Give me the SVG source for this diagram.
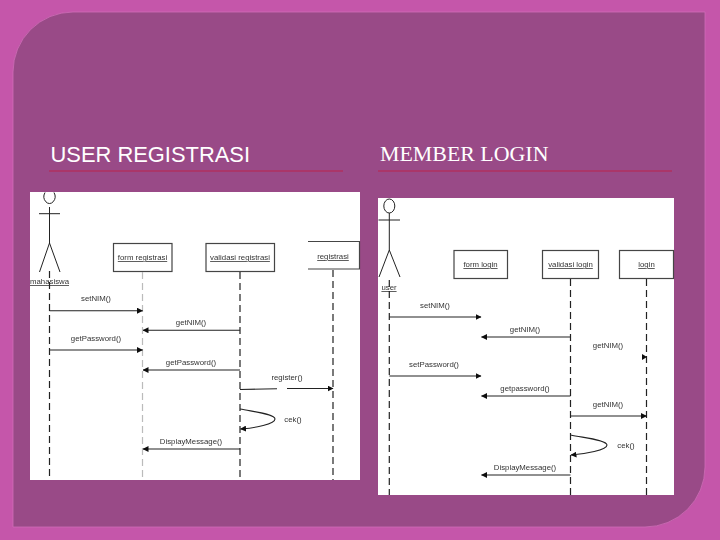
<svg xmlns="http://www.w3.org/2000/svg" width="720" height="540" viewBox="0 0 720 540">
<defs>
<marker id="ah" viewBox="0 0 6 6" refX="5.5" refY="3" markerWidth="6" markerHeight="6" orient="auto" markerUnits="userSpaceOnUse"><path d="M0 0L6 3L0 6Z" fill="#111"/></marker>
<filter id="soft" x="-2%" y="-2%" width="104%" height="104%"><feGaussianBlur stdDeviation="0.35"/></filter>
</defs>
<style>
.lbl{font-family:"Liberation Sans",Arial,sans-serif;font-size:7.8px;fill:#333;text-anchor:middle}
.ul{text-decoration:underline}
.box{fill:#fff;stroke:#444;stroke-width:1.2}
.life{stroke:#222;stroke-width:1.2;stroke-dasharray:7 4;fill:none}
.msg{stroke:#222;stroke-width:1.1;fill:none;marker-end:url(#ah)}
.act{stroke:#222;stroke-width:1;fill:none}
.rule{stroke:#b0305f;stroke-width:1.4}
.title{font-size:21.9px;fill:#fff}
</style>
<rect id="background" width="720" height="540" fill="#c556aa"/>
<path id="panel" d="M73 12H705V467A60 60 0 0 1 645 527H13V72A60 60 0 0 1 73 12Z" fill="#994a87" stroke="#cf6db8" stroke-width="0.8"/>
<g id="title-left"><text class="title" x="50.500" y="162" font-family="'Liberation Sans',Arial,sans-serif">USER REGISTRASI</text><line class="rule" x1="49" y1="171" x2="343" y2="171"/></g>
<g id="title-right"><text class="title" x="380" y="161" font-family="'Liberation Serif','Times New Roman',serif">MEMBER LOGIN</text><line class="rule" x1="378" y1="171" x2="672" y2="171"/></g>
<g id="diagram-left" filter="url(#soft)">
<rect x="30" y="192" width="330" height="288" fill="#fff"/>
<g id="actor-mahasiswa"><path class="act" d="M49.5 207V243M39 213.7H60M49.5 243L39.500 272M49.500 243L60 272"/><path class="act" d="M45 192.500A5.500 7 0 1 0 54 192.500"/><text class="lbl ul" x="49.500" y="284">mahasiswa</text></g>
<g id="form-registrasi"><rect class="box" x="113.500" y="243.500" width="58.500" height="28"/><text class="lbl ul" x="142.500" y="260">form registrasi</text></g>
<g id="validasi-registrasi"><rect class="box" x="206" y="243.500" width="68.500" height="28"/><text class="lbl ul" x="240" y="260">validasi registrasi</text></g>
<g id="registrasi"><path class="box" d="M308 241.500H359.500V269H308"/><text class="lbl ul" x="333" y="259">registrasi</text></g>
<g id="connectors-left">
<path class="life" d="M49.500 271V480M240 272V480M333 270V480"/>
<path class="life" style="stroke:#bbb" d="M142.500 272V480"/>
<path class="msg" d="M49.500 310.700H142.500"/><path class="msg" d="M240 330.300H143"/><path class="msg" d="M49.500 350H142.500"/><path class="msg" d="M240 370H143"/>
<path class="msg" d="M240 389.500L277 388.700M287 388.500H333"/>
<path class="msg" d="M240 409C255 412 275 414 275 419C275 424 255 428 240.500 429"/>
<path class="msg" d="M240 449H143"/>
</g>
<text class="lbl" x="96" y="301">setNIM()</text><text class="lbl" x="191" y="325">getNIM()</text><text class="lbl" x="96" y="341">getPassword()</text><text class="lbl" x="191" y="365">getPassword()</text><text class="lbl" x="287" y="380">register()</text><text class="lbl" x="293" y="422">cek()</text><text class="lbl" x="191" y="444">DisplayMessage()</text>
</g>
<g id="diagram-right" filter="url(#soft)">
<rect x="378" y="198" width="296" height="297" fill="#fff"/>
<g id="actor-user"><ellipse class="act" cx="389.300" cy="206" rx="5.500" ry="7"/><path class="act" d="M389.300 213V250M378.500 220H400M389.300 250L379 277M389.300 250L400 277"/><text class="lbl ul" x="389" y="290">user</text></g>
<g id="form-login"><rect class="box" x="454" y="250.500" width="53.500" height="28"/><text class="lbl ul" x="480.500" y="267">form login</text></g>
<g id="validasi-login"><rect class="box" x="542.500" y="250.500" width="56" height="28"/><text class="lbl ul" x="570.500" y="267">validasi login</text></g>
<g id="login"><rect class="box" x="619.500" y="250.500" width="54" height="28"/><text class="lbl ul" x="646.500" y="267">login</text></g>
<g id="connectors-right">
<path class="life" d="M389.300 280V495M570.500 279V495M646.500 279V495"/>
<path class="msg" d="M389.300 317H481"/><path class="msg" d="M570.500 337H481.500"/><path d="M642 354L647 357L642 360Z" fill="#111"/><path class="msg" d="M389.300 376H481"/><path class="msg" d="M570.500 396H481.500"/><path class="msg" d="M570.500 416H646.500"/>
<path class="msg" d="M570.500 435C585 438 607 440 607 445C607 450 585 454 571 455"/>
<path class="msg" d="M570.500 475H481.500"/>
</g>
<text class="lbl" x="435" y="308">setNIM()</text><text class="lbl" x="525" y="332">getNIM()</text><text class="lbl" x="608" y="348">getNIM()</text><text class="lbl" x="434" y="367">setPassword()</text><text class="lbl" x="525" y="391">getpassword()</text><text class="lbl" x="608" y="407">getNIM()</text><text class="lbl" x="626" y="448">cek()</text><text class="lbl" x="525" y="470">DisplayMessage()</text>
</g>
</svg>
